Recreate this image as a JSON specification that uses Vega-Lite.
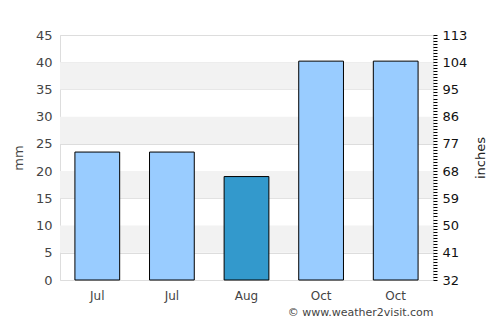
{
  "$schema": "https://vega.github.io/schema/vega-lite/v6.json",
  "width": 373,
  "height": 245,
  "autosize": "none",
  "padding": {"left": 60, "top": 35, "right": 67, "bottom": 45},
  "config": {
    "view": {"stroke": "#dddddd"},
    "font": "DejaVu Sans",
    "axis": {"labelFont": "DejaVu Sans", "titleFont": "DejaVu Sans", "titleFontWeight": "normal"}
  },
  "datasets": {
    "bands": [
      {"lo": 5, "hi": 10},
      {"lo": 15, "hi": 20},
      {"lo": 25, "hi": 30},
      {"lo": 35, "hi": 40}
    ],
    "rain": [
      {"key": "Jul 1", "month": "Jul", "mm": 23.5},
      {"key": "Jul 2", "month": "Jul", "mm": 23.5},
      {"key": "Aug 3", "month": "Aug", "mm": 19},
      {"key": "Oct 4", "month": "Oct", "mm": 40.2},
      {"key": "Oct 5", "month": "Oct", "mm": 40.2}
    ],
    "inches": [{"v": 32}, {"v": 113}]
  },
  "layer": [
    {
      "data": {"name": "bands"},
      "mark": {"type": "rect", "color": "#f2f2f2"},
      "encoding": {
        "y": {"field": "lo", "type": "quantitative", "scale": {"domain": [0, 45]}, "axis": null},
        "y2": {"field": "hi"}
      }
    },
    {
      "data": {"name": "rain"},
      "mark": {"type": "bar", "stroke": "#000000", "strokeWidth": 1},
      "encoding": {
        "x": {
          "field": "key",
          "type": "nominal",
          "sort": null,
          "scale": {"paddingInner": 0.4, "paddingOuter": 0.2},
          "axis": {
            "labelExpr": "split(datum.label, ' ')[0]",
            "labelAngle": 0,
            "labelFontSize": 12,
            "labelColor": "#444444",
            "labelPadding": 10,
            "ticks": false,
            "domain": false,
            "title": "© www.weather2visit.com",
            "titleAnchor": "end",
            "titleFontSize": 11,
            "titleColor": "#444444",
            "titlePadding": 5
          }
        },
        "y": {
          "field": "mm",
          "type": "quantitative",
          "scale": {"domain": [0, 45], "nice": false},
          "axis": {
            "values": [0, 5, 10, 15, 20, 25, 30, 35, 40, 45],
            "title": "mm",
            "titleFontSize": 13,
            "titleColor": "#444444",
            "titlePadding": 10,
            "labelFontSize": 13,
            "labelColor": "#444444",
            "labelPadding": 8,
            "ticks": false,
            "domain": false,
            "grid": true,
            "gridColor": "#dddddd"
          }
        },
        "color": {
          "condition": {"test": "datum.month === 'Aug'", "value": "#3399cc"},
          "value": "#99ccff"
        }
      }
    },
    {
      "data": {"name": "inches"},
      "mark": {"type": "point", "opacity": 0},
      "encoding": {
        "y": {
          "field": "v",
          "type": "quantitative",
          "scale": {"domain": [32, 113], "nice": false, "zero": false},
          "axis": {
            "orient": "right",
            "values": [32,33,34,35,36,37,38,39,40,41,42,43,44,45,46,47,48,49,50,51,52,53,54,55,56,57,58,59,60,61,62,63,64,65,66,67,68,69,70,71,72,73,74,75,76,77,78,79,80,81,82,83,84,85,86,87,88,89,90,91,92,93,94,95,96,97,98,99,100,101,102,103,104,105,106,107,108,109,110,111,112,113],
            "labelExpr": "(datum.value - 32) % 9 == 0 ? datum.label : ''",
            "labelFontSize": 13,
            "labelColor": "#111111",
            "labelPadding": 5,
            "labelOverlap": false,
            "tickSize": 4,
            "tickColor": "#000000",
            "domain": false,
            "grid": false,
            "title": "inches",
            "titleAngle": 270,
            "titleFontSize": 13,
            "titleColor": "#222222",
            "titlePadding": 21
          }
        }
      }
    }
  ],
  "resolve": {"scale": {"y": "independent"}, "axis": {"y": "independent"}}
}
